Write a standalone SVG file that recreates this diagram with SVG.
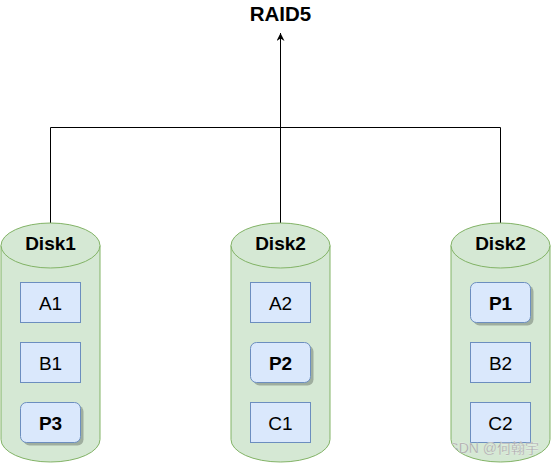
<svg xmlns="http://www.w3.org/2000/svg" width="551" height="463" viewBox="0 0 551 463">
<defs>
<style>
.cyl{fill:#d5e8d4;stroke:#82b366;stroke-width:1}
.box{fill:#dae8fc;stroke:#6c8ebf;stroke-width:1}
.shd{fill:#000;opacity:0.25}
.lbl{font-family:"Liberation Sans",Arial,sans-serif;font-size:19px;font-weight:bold;fill:#000;text-anchor:middle}
.txt{font-family:"Liberation Sans",Arial,sans-serif;font-size:19px;fill:#000;text-anchor:middle}
.title{font-family:"Liberation Sans",Arial,sans-serif;font-size:20.5px;font-weight:bold;fill:#000;text-anchor:middle}
.conn{fill:none;stroke:#000;stroke-width:1}
.wm{font-family:"Liberation Sans","Noto Sans CJK SC",sans-serif;font-size:14px;fill:#a6a6a6;stroke:#ffffff;stroke-width:0.3;stroke-opacity:0.6;text-anchor:end}
</style>
<marker id="arr" markerUnits="userSpaceOnUse" viewBox="0 0 10 10" refX="10" refY="5" markerWidth="8" markerHeight="8" orient="auto">
<path d="M0,0 L10,5 L0,10 L3,5 z" fill="#000"/>
</marker>
<clipPath id="wmclip"><path d="M451,425 V439.5 A49.5,22.5 0 0 0 550,439.5 V425 Z"/></clipPath>
</defs>
<rect x="0" y="0" width="551" height="463" fill="#fff"/>
<g id="connectors">
<path class="conn" d="M50.5,223 V127.5 H280.5"/>
<path class="conn" d="M500.5,223 V127.5 H280.5"/>
<path class="conn" d="M280.5,223 V33" marker-end="url(#arr)"/>
</g>
<g id="raid5">
<text class="title" x="280.5" y="21">RAID5</text>
</g>
<g id="disk1">
<path class="cyl" d="M1,245.5 A49.5,22.5 0 0 1 100,245.5 V439.5 A49.5,22.5 0 0 1 1,439.5 Z"/>
<path class="cyl" d="M1,245.5 A49.5,22.5 0 0 0 100,245.5" fill="none"/>
<text class="lbl" x="50.5" y="250">Disk1</text>
<rect class="box" x="20.5" y="282.5" width="60" height="40"/>
<text class="txt" x="50.5" y="309.5">A1</text>
<rect class="box" x="20.5" y="342.5" width="60" height="40"/>
<text class="txt" x="50.5" y="369.5">B1</text>
<rect class="shd" x="23.5" y="405.5" width="60" height="40" rx="6"/>
<rect class="box" x="20.5" y="402.5" width="60" height="40" rx="6"/>
<text class="lbl" x="50.5" y="429.5">P3</text>
</g>
<g id="disk2">
<path class="cyl" d="M231,245.5 A49.5,22.5 0 0 1 330,245.5 V439.5 A49.5,22.5 0 0 1 231,439.5 Z"/>
<path class="cyl" d="M231,245.5 A49.5,22.5 0 0 0 330,245.5" fill="none"/>
<text class="lbl" x="280.5" y="250">Disk2</text>
<rect class="box" x="250.5" y="282.5" width="60" height="40"/>
<text class="txt" x="280.5" y="309.5">A2</text>
<rect class="shd" x="253.5" y="345.5" width="60" height="40" rx="6"/>
<rect class="box" x="250.5" y="342.5" width="60" height="40" rx="6"/>
<text class="lbl" x="280.5" y="369.5">P2</text>
<rect class="box" x="250.5" y="402.5" width="60" height="40"/>
<text class="txt" x="280.5" y="429.5">C1</text>
</g>
<g id="disk3">
<path class="cyl" d="M451,245.5 A49.5,22.5 0 0 1 550,245.5 V439.5 A49.5,22.5 0 0 1 451,439.5 Z"/>
<path class="cyl" d="M451,245.5 A49.5,22.5 0 0 0 550,245.5" fill="none"/>
<text class="lbl" x="500.5" y="250">Disk2</text>
<rect class="shd" x="473.5" y="285.5" width="60" height="40" rx="6"/>
<rect class="box" x="470.5" y="282.5" width="60" height="40" rx="6"/>
<text class="lbl" x="500.5" y="309.5">P1</text>
<rect class="box" x="470.5" y="342.5" width="60" height="40"/>
<text class="txt" x="500.5" y="369.5">B2</text>
<rect class="box" x="470.5" y="402.5" width="60" height="40"/>
<text class="txt" x="500.5" y="429.5">C2</text>
</g>
<g id="watermark" clip-path="url(#wmclip)">
<text class="wm" x="539" y="453">CSDN @何翰宇</text>
</g>
</svg>
